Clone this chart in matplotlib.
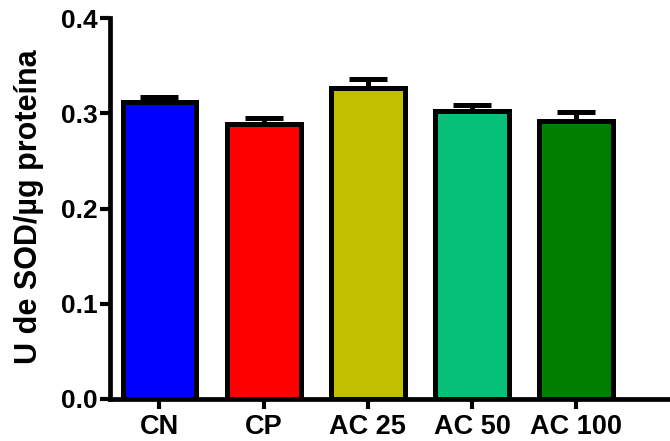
import matplotlib
matplotlib.use("Agg")
import matplotlib.pyplot as plt

categories = ["CN", "CP", "AC 25", "AC 50", "AC 100"]
values = [0.312, 0.289, 0.326, 0.302, 0.292]
errors = [0.005, 0.006, 0.010, 0.007, 0.009]
colors = ["#0000FF", "#FF0000", "#C0C000", "#06BF79", "#007F00"]

plt.rcParams['font.family'] = ['Liberation Sans', 'DejaVu Sans']
plt.rcParams['font.weight'] = 'bold'

fig = plt.figure(figsize=(6.7, 4.41), dpi=100)
ax = fig.add_axes([110/670, 42/441, 560/670, 381/441])

x = list(range(len(categories)))
ax.bar(x, values, width=0.71, color=colors, edgecolor="black", linewidth=3.6, zorder=2)
ax.errorbar(x, values, yerr=[[0]*len(errors), errors], fmt="none", ecolor="black",
            elinewidth=3.6, capsize=14, capthick=3.6, zorder=1)

ax.set_xlim(-0.475, 4.9)
ax.set_ylim(0, 0.4)
ax.set_yticks([0.0, 0.1, 0.2, 0.3, 0.4])
ax.set_yticklabels(["0.0", "0.1", "0.2", "0.3", "0.4"])
ax.set_xticks(x)
ax.set_xticklabels(categories)
for lab in ax.get_yticklabels():
    lab.set_fontsize(19)
    lab.set_fontweight('bold')
for lab in ax.get_xticklabels():
    lab.set_fontsize(19.5)
    lab.set_fontweight('bold')

ax.spines['top'].set_visible(False)
ax.spines['right'].set_visible(False)
for s in ['left', 'bottom']:
    ax.spines[s].set_linewidth(3.4)
ax.tick_params(axis='both', width=3.0, length=7, direction='out')
ax.tick_params(axis='y', pad=2)
ax.tick_params(axis='x', pad=4)
ax.set_ylabel("U de SOD/µg proteína", fontsize=22, fontweight='bold')
ax.yaxis.set_label_coords(-0.118, 0.505)

fig.savefig("out.png", dpi=100)
